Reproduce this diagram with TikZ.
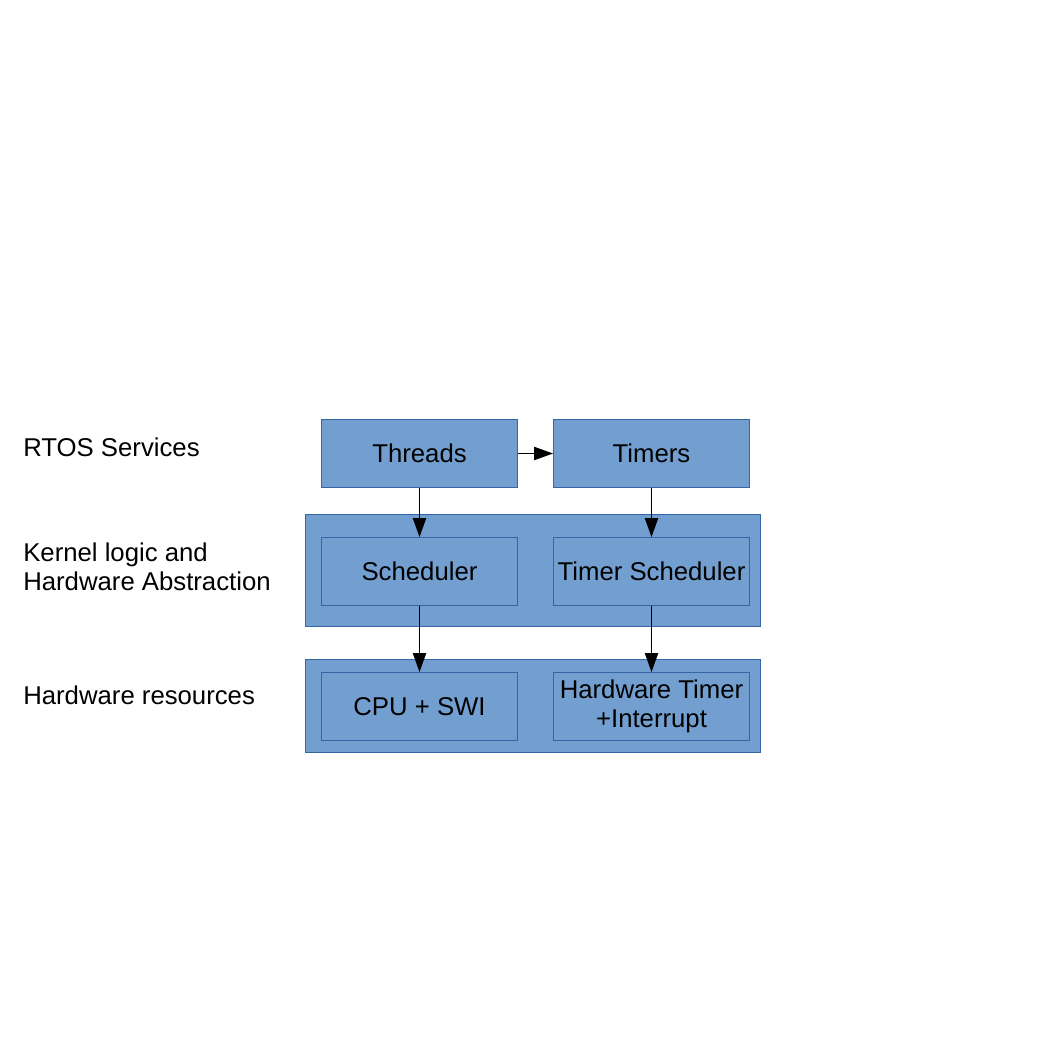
\documentclass[tikz,border=0pt]{standalone}
\usepackage{fontspec}
\setmainfont{Liberation Sans}
\usetikzlibrary{arrows.meta}
\usetikzlibrary{positioning}
\definecolor{lofill}{HTML}{729FCF}
\definecolor{loline}{HTML}{3465A4}
\tikzset{blk/.style = {draw = loline, fill = lofill, line width = 0.7pt, inner sep = 0, align = center, minimum width = 4.9cm, minimum height = 1.7cm}}
\tikzset{layer/.style = {draw = loline, fill = lofill, line width = 0.7pt, inner sep = 0, minimum width = 11.375cm}}
\tikzset{lbl/.style = {anchor = west, align = left, inner sep = 0}}
\tikzset{flow/.style = {-{Triangle[length = 13.5pt, width = 9.5pt]}, line width = 0.7pt}}

\begin{document}
\begin{tikzpicture}[x = 0.025cm, y = -0.025cm, font = \fontsize{18.3}{20.4}\selectfont]
      \useasboundingbox (0, 0) rectangle (1058, 1058);
      % layers
      \node [layer, minimum height = 2.8cm] (kernel) at (533, 570.5) {};
      \node [layer, minimum height = 2.325cm] (hw) at (533, 706) {};
      % blocks
      \node [blk] (threads) at (419.5, 453.5) {Threads};
      \node [blk] (timers) at (651.5, 453.5) {Timers};
      \node [blk] (sched) at (419.5, 571.5) {Scheduler};
      \node [blk] (tsched) at (651.5, 571.5) {Timer Scheduler};
      \node [blk] (cpu) at (419.5, 706.5) {CPU + SWI};
      \node [blk] (hwtimer) at (651.5, 706.5) {Hardware Timer\\+Interrupt};
      % labels
      \node [lbl] (l1) at (23, 447) {RTOS Services};
      \node [lbl] (l2) at (23, 566.5) {Kernel logic and\\Hardware Abstraction};
      \node [lbl] (l3) at (23, 695) {Hardware resources};
      % arrows
      \draw [flow] (threads) -- (timers);
      \draw [flow] (threads) -- (sched);
      \draw [flow] (timers) -- (tsched);
      \draw [flow] (sched) -- (cpu);
      \draw [flow] (tsched) -- (hwtimer);
    \end{tikzpicture}
\end{document}
